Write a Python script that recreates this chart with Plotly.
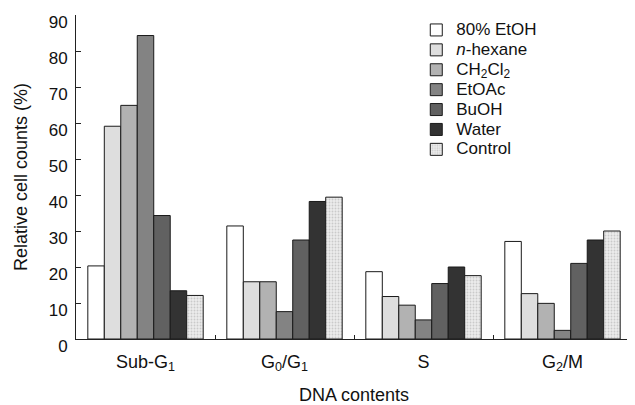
import plotly.graph_objects as go

categories = ["Sub-G<sub>1</sub>", "G<sub>0</sub>/G<sub>1</sub>", "S", "G<sub>2</sub>/M"]
series_names = ["80% EtOH", "<i>n</i>-hexane", "CH<sub>2</sub>Cl<sub>2</sub>", "EtOAc", "BuOH", "Water", "Control"]
etoh = [20.3, 31.4, 18.7, 27.1]
hexane = [59.1, 15.9, 11.8, 12.6]
ch2cl2 = [64.9, 15.9, 9.4, 9.9]
etoac = [84.3, 7.6, 5.3, 2.4]
buoh = [34.3, 27.5, 15.4, 21.0]
water = [13.4, 38.2, 20.0, 27.5]
control = [12.1, 39.4, 17.6, 30.0]
y_ticks = [0, 10, 20, 30, 40, 50, 60, 70, 80, 90]

values = [etoh, hexane, ch2cl2, etoac, buoh, water, control]
colors = ["#ffffff", "#dedede", "#b2b2b2", "#838383", "#616161", "#333333", "#e6e6e6"]

fig = go.Figure()
for i, (name, vals, col) in enumerate(zip(series_names, values, colors)):
    marker = dict(color=col, line=dict(color="#1a1a1a", width=1))
    if i == 6:
        marker["pattern"] = dict(shape=".", fgcolor="#a8a8a8", bgcolor="#ececec", size=3, solidity=0.3)
    fig.add_trace(go.Bar(x=categories, y=vals,
                         name='<span style="font-size:17px">' + name + '</span>',
                         marker=marker))

font = "Liberation Sans, Arial, sans-serif"
fig.update_layout(
    width=627, height=397,
    margin=dict(l=68, r=3, t=7, b=66),
    paper_bgcolor="white", plot_bgcolor="white",
    barmode="group", bargap=0.17, bargroupgap=0,
    font=dict(family=font, size=17, color="#111"),
    legend=dict(x=0.612, y=1.0, xanchor="left", yanchor="top",
                font=dict(size=13), tracegroupgap=0, itemwidth=30,
                bgcolor="rgba(0,0,0,0)"),
    xaxis=dict(showline=True, linecolor="#222", linewidth=1, ticks="inside",
               tickson="boundaries", ticklen=4, tickcolor="#222",
               tickfont=dict(size=18), automargin=False, ticklabelstandoff=6,
               title=dict(text="DNA contents", standoff=19, font=dict(size=18))),
    yaxis=dict(range=[0, 90], tickvals=y_ticks, showline=True, linecolor="#222",
               linewidth=1, ticks="inside", ticklen=5, tickcolor="#222",
               showgrid=False, zeroline=False, automargin=False,
               tickfont=dict(size=17), ticklabelstandoff=4, ticklabelshift=7,
               title=dict(text="Relative cell counts (%)", standoff=16, font=dict(size=18))),
)
fig.write_html("out.html")
